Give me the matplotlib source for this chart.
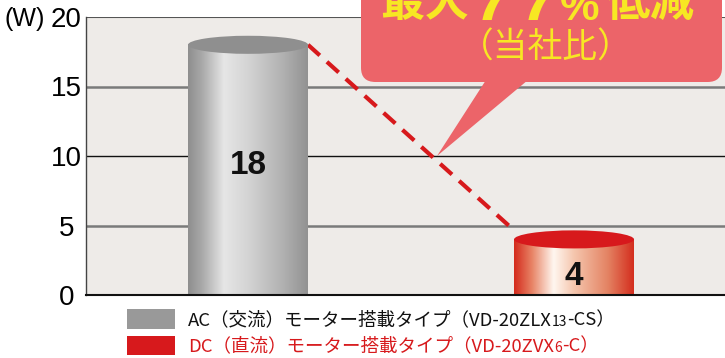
import matplotlib
matplotlib.use("Agg")
import matplotlib.pyplot as plt
import numpy as np
from matplotlib.patches import Ellipse, FancyBboxPatch, Polygon, Rectangle
from matplotlib.colors import LinearSegmentedColormap

# ---- data ----
categories = ["AC（交流）モーター搭載タイプ", "DC（直流）モーター搭載タイプ"]
values = [18, 4]
yticks = [0, 5, 10, 15, 20]
unit_label = "(W)"
callout_main = ["最大", "7", "7", "%", "低減"]
callout_sub = "（当社比）"
legend_parts = [
    ["AC（交流）モーター搭載タイプ（VD-20ZLX", "13", "-CS）"],
    ["DC（直流）モーター搭載タイプ（VD-20ZVX", "6", "-C）"],
]

W, H = 725, 358
fig = plt.figure(figsize=(W / 100, H / 100), dpi=100)
fig.patch.set_facecolor("white")

def fx(px):
    return px / W

def fy(py):
    return 1 - py / H

ax = fig.add_axes([fx(86), fy(295), fx(725) - fx(86), fy(17) - fy(295)])
ax.set_facecolor("#EEEBE8")

xpos = np.arange(len(values))
bw = 0.368
xlim = (-0.497, 1.463)

# grid lines
for v in yticks[1:]:
    if v == 10:
        ax.axhline(v, color="#111111", lw=1.0, zorder=1)
    elif v == 20:
        ax.axhline(v, color="#555555", lw=1.5, zorder=1)
    else:
        ax.axhline(v, color="#7a7a7a", lw=1.8, zorder=1)

gray_stops = [(0.0, "#8e8e8e"), (0.12, "#aaaaaa"), (0.3, "#e6e6e6"), (0.5, "#d4d4d4"), (0.8, "#b0b0b0"), (1.0, "#929292")]
red_stops = [(0.0, "#d42a1c"), (0.15, "#e88466"), (0.33, "#fff7f0"), (0.5, "#f5c6ae"), (0.78, "#e48464"), (1.0, "#d42e1e")]
body_cmaps = [LinearSegmentedColormap.from_list("g", gray_stops), LinearSegmentedColormap.from_list("r", red_stops)]
top_colors = ["#8f8f8f", "#d7191c"]
label_y = [9.3, 1.3]

grad = np.linspace(0, 1, 256).reshape(1, -1)
ell_h = 1.3
for i, (x, v) in enumerate(zip(xpos, values)):
    ax.imshow(grad, cmap=body_cmaps[i], extent=[x - bw / 2, x + bw / 2, 0, v], aspect="auto", zorder=3, interpolation="bicubic")
    ax.add_patch(Ellipse((x, v), bw, ell_h, facecolor=top_colors[i], edgecolor="none", zorder=4))
    ax.text(x, label_y[i], str(v), ha="center", va="center", fontsize=24, fontweight="bold",
            family="Liberation Sans", color="#111111", zorder=6)

# dashed connecting line
ax.plot([xpos[0] + bw / 2, xpos[1] - bw / 2], [values[0], values[1] + ell_h / 2],
        color="#d7191c", lw=3.0, linestyle=(0, (3.8, 2.3)), zorder=2, solid_capstyle="butt")

ax.set_xlim(*xlim)
ax.set_ylim(0, 20)
ax.set_xticks([])
ax.set_yticks(yticks)
ax.set_yticklabels([str(t) for t in yticks], fontsize=20, family="Liberation Sans", ha="center")
ax.tick_params(axis="y", length=0, pad=14)
for s in ["top", "right"]:
    ax.spines[s].set_visible(False)
ax.spines["left"].set_color("#444444")
ax.spines["left"].set_linewidth(1.0)
ax.spines["bottom"].set_color("#111111")
ax.spines["bottom"].set_linewidth(1.5)
ax.spines["bottom"].set_zorder(7)

fig.text(fx(4), fy(19), unit_label, fontsize=18, family="Liberation Sans", va="center", ha="left")

# callout
box = FancyBboxPatch((fx(361), fy(82)), fx(722) - fx(361), fy(-40) - fy(82),
                     boxstyle="round,pad=0,rounding_size=0.02", transform=fig.transFigure,
                     facecolor="#EC6469", edgecolor="none", zorder=10, mutation_aspect=2.0)
fig.patches.append(box)
tail = Polygon([(fx(486), fy(80)), (fx(528), fy(80)), (fx(437), fy(156))], closed=True,
               transform=fig.transFigure, facecolor="#EC6469", edgecolor="none", zorder=10)
fig.patches.append(tail)

yellow = "#F7E723"
fig.canvas.draw()
renderer = fig.canvas.get_renderer()
cx = fx(380)
part_fams = [["Noto Sans CJK JP"], ["Liberation Sans"], ["Liberation Sans"], ["Liberation Sans"], ["Noto Sans CJK JP"]]
part_sizes = [32, 46, 46, 32, 32]
part_styles = ["normal", "italic", "italic", "normal", "normal"]
part_base = [16, 20, 20, 20, 16]
part_gap = [8, 10, 2, 6, 0]
for part, fam, sz, st, base, gap in zip(callout_main, part_fams, part_sizes, part_styles, part_base, part_gap):
    t = fig.text(cx, fy(base), part, fontsize=sz, fontweight="bold", family=fam, color=yellow,
                 va="baseline", ha="left", zorder=11, style=st)
    bb = t.get_window_extent(renderer)
    cx = (bb.x1 + gap) / W
fig.text(fx(546), fy(48), callout_sub, fontsize=25, family=["Noto Sans CJK JP"], color=yellow,
         va="center", ha="center", zorder=11)

# legend
leg_colors = ["#999999", "#d7191c"]
leg_text_colors = ["#111111", "#d7191c"]
rect_y = [(309, 329), (336, 355)]
text_y = [320, 346]
for i in range(2):
    fig.patches.append(Rectangle((fx(127), fy(rect_y[i][1])), fx(175) - fx(127), fy(rect_y[i][0]) - fy(rect_y[i][1]),
                                 transform=fig.transFigure, facecolor=leg_colors[i], edgecolor="none"))
    cx = fx(188)
    for j, part in enumerate(legend_parts[i]):
        sz = 13.3 if j != 1 else 10
        yy = fy(text_y[i]) if j != 1 else fy(text_y[i] + 2)
        t = fig.text(cx, yy, part, fontsize=sz, family=["Noto Sans CJK JP", "DejaVu Sans"],
                     color=leg_text_colors[i], va="center", ha="left")
        bb = t.get_window_extent(renderer)
        cx = bb.x1 / W

fig.savefig("out.png", dpi=100)
